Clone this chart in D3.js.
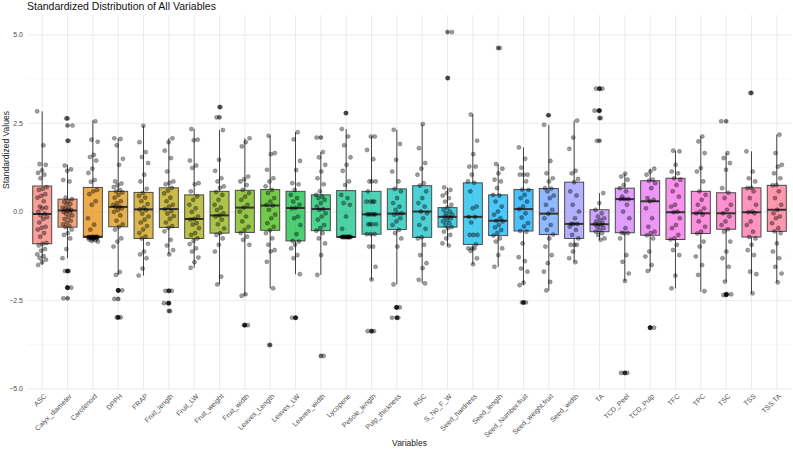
<!DOCTYPE html>
<html>
<head>
<meta charset="utf-8">
<script src="https://cdn.jsdelivr.net/npm/d3@7"></script>
<style>
  body { margin: 0; background: #fff; }
  text { font-family: "Liberation Sans", Arial, sans-serif; }
</style>
</head>
<body>
<svg id="chart"></svg>
<script>
const variables = ["ASC", "Calyx_diameter", "Carotenoid", "DPPH", "FRAP", "Fruit_length", "Fruit_LW",
  "Fruit_weight", "Fruit_width", "Leaves_Length", "Leaves_LW", "Leaves_width", "Lycopene",
  "Petiole_length", "Pulp_thickness", "RSC", "S_No_F_W", "Seed_hardness", "Seed_length",
  "Seed_Number.fruit", "Seed_weight.fruit", "Seed_width", "TA", "TCD_Peel", "TCD_Pulp",
  "TFC", "TPC", "TSC", "TSS", "TSS.TA"];

// box statistics
const whiskerLo = [-1.50, -1.31, -0.84, -1.78, -1.80, -1.20, -1.58, -2.05, -2.37, -2.16, -1.76, -1.78, -0.71,
  -1.91, -2.05, -2.02, -0.95, -1.48, -1.55, -2.07, -2.22, -1.42, -0.79, -1.95, -1.67, -2.16, -2.25, -1.97, -2.30, -1.99];
const q1 = [-0.90, -0.43, -0.72, -0.42, -0.75, -0.44, -0.75, -0.60, -0.58, -0.52, -0.82, -0.53, -0.71,
  -0.63, -0.50, -0.72, -0.43, -0.92, -0.67, -0.54, -0.64, -0.75, -0.56, -0.59, -0.66, -0.78, -0.61, -0.49, -0.71, -0.55];
const medians = [-0.06, 0.04, -0.70, 0.14, 0.07, 0.08, -0.20, -0.10, 0.12, 0.18, 0.11, 0.08, -0.71,
  -0.07, -0.05, 0.01, -0.14, -0.14, -0.25, 0.08, -0.05, -0.34, -0.35, 0.36, 0.30, -0.01, -0.04, -0.04, -0.01, 0.06];
const q3 = [0.73, 0.36, 0.69, 0.58, 0.55, 0.68, 0.48, 0.58, 0.61, 0.63, 0.58, 0.48, 0.60,
  0.58, 0.65, 0.74, 0.12, 0.82, 0.48, 0.63, 0.66, 0.84, 0.06, 0.67, 0.88, 0.95, 0.58, 0.54, 0.68, 0.75];
const whiskerHi = [2.84, 1.33, 2.58, 2.08, 2.43, 2.08, 2.34, 2.31, 2.08, 2.15, 2.25, 1.69, 2.34,
  2.13, 2.32, 2.48, 0.69, 2.75, 1.35, 1.82, 2.46, 2.58, 0.53, 1.08, 1.22, 1.73, 2.13, 1.66, 1.71, 2.18];

// standardized observations per variable (same order as variables)
const observations = [
  [2.84, 1.88, 1.35, 1.33, 1.17, 1.1, 1.05, 0.95, 0.7, 0.65, 0.62, 0.5, 0.45, 0.4, 0.3, 0.15, 0.12, 0.1, 0.0, -0.05, -0.1, -0.15, -0.2, -0.3, -0.42, -0.45, -0.5, -0.6, -0.7, -0.88, -0.9, -0.95, -1.05, -1.1, -1.2, -1.25, -1.3, -1.35, -1.42, -1.5],
  [2.64, 2.44, 2.01, 1.31, 1.2, 1.16, 0.9, 0.86, 0.4, 0.36, 0.3, 0.28, 0.22, 0.2, 0.12, 0.1, 0.08, 0.05, 0.04, 0.0, -0.02, -0.05, -0.1, -0.15, -0.2, -0.25, -0.3, -0.35, -0.4, -0.43, -0.5, -0.6, -0.65, -0.75, -1.05, -1.31, -1.67, -1.67, -2.14, -2.14, -2.44],
  [2.56, 2.04, 1.98, 1.61, 1.55, 1.45, 1.22, 1.1, 0.9, 0.85, 0.62, 0.58, 0.5, 0.3, 0.2, -0.18, -0.36, -0.5, -0.7, -0.7, -0.71, -0.71, -0.72, -0.72, -0.72, -0.72, -0.72, -0.73, -0.73, -0.74, -0.74, -0.75, -0.76, -0.78, -0.8, -0.82, -0.84],
  [2.08, 2.06, 1.88, 1.5, 1.33, 0.86, 0.8, 0.75, 0.7, 0.62, 0.58, 0.55, 0.48, 0.4, 0.3, 0.25, 0.2, 0.15, 0.14, 0.1, 0.05, 0.0, -0.1, -0.25, -0.35, -0.42, -0.5, -0.75, -0.84, -0.98, -1.7, -1.78, -2.22, -2.22, -2.46, -2.98, -2.98],
  [2.43, 1.97, 1.69, 1.55, 1.38, 1.05, 0.86, 0.65, 0.53, 0.45, 0.4, 0.3, 0.22, 0.12, 0.07, 0.05, -0.05, -0.13, -0.22, -0.3, -0.4, -0.5, -0.6, -0.7, -0.75, -0.9, -1.12, -1.2, -1.31, -1.6, -1.8],
  [2.08, 1.97, 1.73, 1.52, 1.14, 0.86, 0.82, 0.78, 0.68, 0.6, 0.52, 0.4, 0.3, 0.2, 0.15, 0.08, 0.02, -0.05, -0.12, -0.2, -0.3, -0.4, -0.45, -0.55, -0.79, -0.95, -1.08, -1.2, -2.23, -2.23, -2.58, -2.58, -2.8],
  [2.34, 2.04, 2.02, 1.45, 1.31, 1.24, 0.81, 0.78, 0.58, 0.44, 0.34, 0.2, 0.1, 0.0, -0.13, -0.2, -0.22, -0.32, -0.36, -0.46, -0.6, -0.65, -0.75, -0.82, -0.91, -1.03, -1.12, -1.29, -1.42, -1.58],
  [2.96, 2.67, 2.31, 1.47, 1.16, 0.95, 0.86, 0.72, 0.68, 0.56, 0.48, 0.34, 0.2, 0.12, 0.05, -0.04, -0.1, -0.13, -0.22, -0.35, -0.47, -0.6, -0.65, -0.75, -0.93, -1.12, -1.83, -2.05],
  [2.08, 1.97, 1.85, 1.0, 0.92, 0.86, 0.76, 0.62, 0.53, 0.43, 0.34, 0.2, 0.12, 0.01, -0.13, -0.27, -0.42, -0.51, -0.6, -0.7, -0.79, -0.93, -2.33, -2.37, -3.2, -3.2],
  [2.15, 1.66, 1.63, 1.19, 0.95, 0.86, 0.72, 0.62, 0.53, 0.39, 0.29, 0.2, 0.18, 0.06, -0.08, -0.18, -0.32, -0.42, -0.52, -0.6, -0.75, -0.93, -1.08, -1.12, -1.41, -2.16, -3.76],
  [2.25, 2.05, 1.44, 1.18, 0.81, 0.78, 0.62, 0.48, 0.39, 0.29, 0.2, 0.11, 0.1, -0.13, -0.18, -0.37, -0.63, -0.82, -0.84, -0.93, -1.03, -1.22, -1.31, -1.76, -2.99, -2.99],
  [2.1, 1.69, 1.54, 1.33, 1.14, 0.95, 0.78, 0.58, 0.48, 0.43, 0.39, 0.34, 0.25, 0.15, 0.08, 0.06, -0.04, -0.13, -0.22, -0.37, -0.46, -0.53, -0.6, -0.75, -0.89, -1.22, -1.78, -4.07],
  [2.79, 2.34, 2.13, 1.88, 1.54, 1.33, 1.16, 0.86, 0.76, 0.48, 0.39, 0.25, 0.2, -0.13, -0.48, -0.71, -0.71, -0.71, -0.71, -0.71, -0.71, -0.71, -0.71, -0.71, -0.71, -0.71, -0.71, -0.71, -0.71],
  [2.13, 2.13, 1.75, 1.49, 0.86, 0.86, 0.86, 0.58, 0.29, 0.29, 0.29, 0.29, -0.07, -0.07, -0.07, -0.07, -0.07, -0.35, -0.35, -0.35, -0.35, -0.63, -0.63, -0.63, -0.98, -0.98, -1.55, -1.91, -3.37, -3.37],
  [2.32, 1.92, 1.47, 1.14, 0.86, 0.65, 0.58, 0.39, 0.25, 0.15, 0.06, -0.04, -0.05, -0.08, -0.18, -0.27, -0.37, -0.51, -0.6, -0.75, -0.98, -2.05, -2.7, -2.7, -2.99, -2.99],
  [2.48, 1.8, 1.38, 1.22, 1.05, 0.81, 0.74, 0.58, 0.39, 0.25, 0.15, 0.01, -0.04, -0.18, -0.37, -0.48, -0.72, -0.75, -0.93, -1.22, -1.45, -1.59, -1.92, -2.02],
  [5.08, 3.78, 0.69, 0.62, 0.53, 0.46, 0.39, 0.29, 0.2, 0.12, 0.06, 0.01, -0.04, -0.08, -0.13, -0.14, -0.18, -0.23, -0.27, -0.32, -0.37, -0.43, -0.46, -0.56, -0.65, -0.75, -0.89, -0.95],
  [2.75, 2.01, 1.63, 1.28, 1.28, 1.05, 0.86, 0.82, 0.58, 0.15, 0.1, -0.14, -0.14, -0.3, -0.65, -0.65, -0.65, -0.92, -1.03, -1.03, -1.03, -1.1, -1.31, -1.48],
  [4.63, 1.35, 1.22, 1.09, 0.91, 0.86, 0.67, 0.48, 0.46, 0.29, 0.15, 0.01, -0.08, -0.18, -0.25, -0.27, -0.37, -0.44, -0.51, -0.6, -0.67, -0.75, -0.84, -1.03, -1.22, -1.55],
  [1.82, 1.5, 1.25, 1.05, 1.05, 1.05, 0.86, 0.63, 0.62, 0.48, 0.39, 0.29, 0.15, 0.08, -0.04, -0.16, -0.32, -0.41, -0.54, -0.56, -0.89, -1.28, -1.39, -1.6, -1.69, -2.0, -2.07, -2.56, -2.56],
  [2.73, 2.46, 1.44, 1.09, 0.95, 0.86, 0.67, 0.66, 0.58, 0.46, 0.39, 0.2, 0.06, -0.05, -0.18, -0.37, -0.51, -0.64, -0.75, -0.98, -1.22, -1.45, -1.69, -1.98, -2.22],
  [2.58, 2.1, 1.78, 1.16, 1.09, 0.93, 0.84, 0.58, 0.46, 0.2, 0.01, -0.18, -0.34, -0.34, -0.34, -0.42, -0.51, -0.65, -0.75, -0.93, -0.93, -0.93, -1.12, -1.31, -1.42],
  [3.48, 3.48, 2.86, 2.86, 2.65, 2.01, 0.53, 0.25, 0.06, -0.04, -0.13, -0.18, -0.23, -0.27, -0.32, -0.35, -0.35, -0.37, -0.42, -0.46, -0.51, -0.56, -0.6, -0.65, -0.75, -0.79],
  [1.08, 1.0, 0.91, 0.76, 0.67, 0.58, 0.43, 0.36, 0.36, 0.36, 0.2, 0.01, -0.18, -0.46, -0.59, -0.6, -0.6, -0.75, -1.22, -1.41, -1.74, -1.95, -4.55, -4.55],
  [1.22, 1.14, 1.05, 0.91, 0.88, 0.81, 0.67, 0.39, 0.34, 0.3, 0.1, -0.18, -0.42, -0.56, -0.6, -0.66, -0.75, -1.12, -1.26, -1.5, -1.67, -3.27, -3.27],
  [1.73, 1.71, 1.33, 1.14, 1.09, 0.95, 0.91, 0.76, 0.58, 0.43, 0.2, 0.15, 0.01, -0.01, -0.18, -0.37, -0.46, -0.65, -0.75, -0.78, -0.93, -1.08, -1.22, -1.8, -2.16],
  [2.13, 1.99, 1.66, 1.24, 1.14, 0.86, 0.58, 0.48, 0.34, 0.2, 0.1, 0.01, -0.04, -0.08, -0.27, -0.42, -0.56, -0.61, -0.84, -0.98, -1.26, -1.5, -1.78, -2.24],
  [2.56, 1.66, 1.52, 1.38, 1.19, 0.67, 0.54, 0.39, 0.2, 0.06, -0.04, -0.13, -0.27, -0.37, -0.49, -0.56, -0.84, -1.12, -1.31, -1.55, -1.97, -2.33, -2.33, -2.35],
  [3.36, 1.71, 1.14, 0.95, 0.86, 0.68, 0.67, 0.58, 0.39, 0.2, 0.01, -0.01, -0.04, -0.27, -0.37, -0.56, -0.71, -0.75, -0.93, -1.08, -1.22, -1.69, -1.76, -2.3],
  [2.18, 1.66, 1.33, 1.28, 1.09, 0.95, 0.76, 0.75, 0.58, 0.39, 0.2, 0.06, -0.04, -0.13, -0.18, -0.32, -0.46, -0.55, -0.6, -0.89, -1.12, -1.31, -1.55, -1.74, -1.99]
];

const yTicks = [-5.0, -2.5, 0.0, 2.5, 5.0];

const width = 793, height = 449;
const panel = { left: 27, right: 792, top: 15, bottom: 390 };

const svg = d3.select("#chart").attr("width", width).attr("height", height);

// ggplot-like hue palette (polar LUV, c = 100, l = 65)
function hclLuv(h, c, l) {
  const Xn = 95.047, Yn = 100, Zn = 108.883;
  const un = 4 * Xn / (Xn + 15 * Yn + 3 * Zn), vn = 9 * Yn / (Xn + 15 * Yn + 3 * Zn);
  const hr = h * Math.PI / 180;
  const u = c * Math.cos(hr), v = c * Math.sin(hr);
  const Y = l > 8 ? Yn * Math.pow((l + 16) / 116, 3) : Yn * l / 903.3;
  const up = u / (13 * l) + un, vp = v / (13 * l) + vn;
  const X = Y * 9 * up / (4 * vp), Z = Y * (12 - 3 * up - 20 * vp) / (4 * vp);
  const x = X / 100, y = Y / 100, z = Z / 100;
  const lin = [
    3.2404542 * x - 1.5371385 * y - 0.4985314 * z,
    -0.9692660 * x + 1.8760108 * y + 0.0415560 * z,
    0.0556434 * x - 0.2040259 * y + 1.0572252 * z
  ];
  const g = lin.map(t => {
    t = Math.max(0, Math.min(1, t));
    return Math.round(255 * (t <= 0.0031308 ? 12.92 * t : 1.055 * Math.pow(t, 1 / 2.4) - 0.055));
  });
  return d3.rgb(g[0], g[1], g[2]).formatHex();
}
const n = variables.length;
const colors = variables.map((d, i) => hclLuv(15 + 360 * i / n, 100, 65));

const allVals = observations.flat().concat(whiskerLo, whiskerHi);
const ext = d3.extent(allVals);
const pad = (ext[1] - ext[0]) * 0.05;

const x = d3.scalePoint().domain(variables).range([panel.left, panel.right]).padding(0.6);
const y = d3.scaleLinear().domain([ext[0] - pad, ext[1] + pad]).range([panel.bottom, panel.top]);
const step = x.step();

// grid
const minor = yTicks.slice(1).map((t, i) => (t + yTicks[i]) / 2);
svg.append("g").selectAll("line").data(minor).join("line")
  .attr("x1", panel.left).attr("x2", panel.right)
  .attr("y1", d => y(d)).attr("y2", d => y(d))
  .attr("stroke", "#f3f3f3").attr("stroke-width", 0.6);
svg.append("g").selectAll("line").data(yTicks).join("line")
  .attr("x1", panel.left).attr("x2", panel.right)
  .attr("y1", d => y(d)).attr("y2", d => y(d))
  .attr("stroke", "#ebebeb").attr("stroke-width", 1);
svg.append("g").selectAll("line").data(variables).join("line")
  .attr("x1", d => x(d)).attr("x2", d => x(d))
  .attr("y1", panel.top).attr("y2", panel.bottom)
  .attr("stroke", "#ebebeb").attr("stroke-width", 1);

// boxplots
const boxW = step * 0.75;
const boxes = svg.append("g").selectAll("g").data(variables).join("g");
boxes.append("line")
  .attr("x1", d => x(d)).attr("x2", d => x(d))
  .attr("y1", (d, i) => y(q3[i])).attr("y2", (d, i) => y(whiskerHi[i]))
  .attr("stroke", "#444").attr("stroke-width", 1);
boxes.append("line")
  .attr("x1", d => x(d)).attr("x2", d => x(d))
  .attr("y1", (d, i) => y(q1[i])).attr("y2", (d, i) => y(whiskerLo[i]))
  .attr("stroke", "#444").attr("stroke-width", 1);
boxes.append("rect")
  .attr("x", d => x(d) - boxW / 2).attr("width", boxW)
  .attr("y", (d, i) => y(q3[i])).attr("height", (d, i) => y(q1[i]) - y(q3[i]))
  .attr("fill", (d, i) => colors[i]).attr("fill-opacity", 0.7)
  .attr("stroke", "#4a4a4a").attr("stroke-width", 1);
boxes.append("line")
  .attr("x1", d => x(d) - boxW / 2).attr("x2", d => x(d) + boxW / 2)
  .attr("y1", (d, i) => y(medians[i])).attr("y2", (d, i) => y(medians[i]))
  .attr("stroke", "#333").attr("stroke-width", 2);

// outliers (drawn by the boxplot at the centre)
const outliers = [];
observations.forEach((vals, i) => vals.forEach(v => {
  if (v > whiskerHi[i] + 1e-9 || v < whiskerLo[i] - 1e-9) outliers.push({ k: i, v: v });
}));
svg.append("g").selectAll("circle").data(outliers).join("circle")
  .attr("cx", d => x(variables[d.k])).attr("cy", d => y(d.v)).attr("r", 2.1)
  .attr("fill", "#000").attr("fill-opacity", 0.55)
  .attr("stroke", "#000").attr("stroke-opacity", 0.4).attr("stroke-width", 0.6);

// jittered points (deterministic spread, width 0.2)
const pts = [];
observations.forEach((vals, i) => vals.forEach((v, j) => {
  const u = ((j * 0.6180339887 + i * 0.371) % 1) - 0.5;
  pts.push({ k: i, v: v, dx: u * 2 * 0.2 * step });
}));
svg.append("g").selectAll("circle").data(pts).join("circle")
  .attr("cx", d => x(variables[d.k]) + d.dx).attr("cy", d => y(d.v)).attr("r", 2.1)
  .attr("fill", "#000").attr("fill-opacity", 0.38)
  .attr("stroke", "#000").attr("stroke-opacity", 0.35).attr("stroke-width", 0.6);

// axes text
svg.append("g").selectAll("text").data(yTicks).join("text")
  .attr("x", panel.left - 4).attr("y", d => y(d)).attr("dy", "0.35em")
  .attr("text-anchor", "end").attr("font-size", 7).attr("fill", "#4d4d4d")
  .text(d => d3.format(".1f")(d));

svg.append("g").selectAll("text").data(variables).join("text")
  .attr("transform", d => `translate(${x(d) + 3},${panel.bottom + 5}) rotate(-45)`)
  .attr("text-anchor", "end").attr("font-size", 7).attr("fill", "#4d4d4d")
  .attr("dy", "0.35em")
  .text(d => d);

svg.append("text")
  .attr("x", (panel.left + panel.right) / 2).attr("y", 446)
  .attr("text-anchor", "middle").attr("font-size", 8.5).attr("fill", "#222")
  .text("Variables");

svg.append("text")
  .attr("transform", `translate(9,150) rotate(-90)`)
  .attr("text-anchor", "middle").attr("font-size", 8.5).attr("fill", "#222")
  .text("Standardized Values");

svg.append("text")
  .attr("x", panel.left).attr("y", 10)
  .attr("font-size", 10.5).attr("fill", "#111")
  .text("Standardized Distribution of All Variables");
</script>
</body>
</html>
